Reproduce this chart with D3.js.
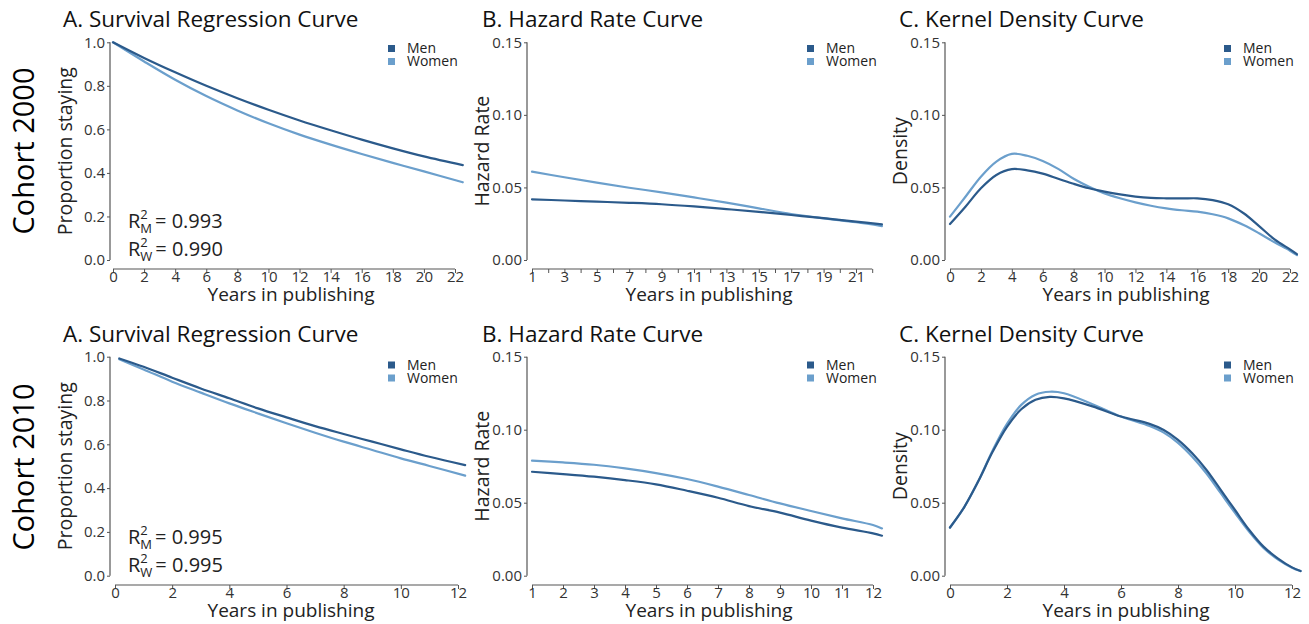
<!DOCTYPE html>
<html>
<head>
<meta charset="utf-8">
<script src="https://cdn.jsdelivr.net/npm/d3@7"></script>
<style>
  html, body { margin: 0; padding: 0; background: #fff; }
  svg { display: block; }
</style>
</head>
<body>
<svg id="chart" width="1309" height="624"></svg>
<script>
// ---------------- DATA ----------------
const seriesNames = ["Men", "Women"];
const seriesColors = ["#2b5a8b", "#6b9fcc"];
const cohortLabels = ["Cohort 2000", "Cohort 2010"];
const panelTitles = ["A. Survival Regression Curve", "B. Hazard Rate Curve", "C. Kernel Density Curve"];
const yAxisTitles = ["Proportion staying", "Hazard Rate", "Density"];
const xAxisTitle = "Years in publishing";

// Cohort 2000
const survYears2000 = [0, 2, 4, 6, 8, 10, 12, 14, 16, 18, 20, 22.5];
const survMen2000   = [1.0, 0.928, 0.862, 0.800, 0.743, 0.690, 0.641, 0.596, 0.553, 0.513, 0.476, 0.436];
const survWomen2000 = [1.0, 0.912, 0.828, 0.753, 0.687, 0.628, 0.576, 0.530, 0.487, 0.446, 0.407, 0.357];

const hazYears2000 = [1, 3, 5, 7, 9, 11, 13, 15, 17, 19, 21, 22.6];
const hazMen2000   = [0.0418, 0.0410, 0.0402, 0.0394, 0.0384, 0.0369, 0.0351, 0.0332, 0.0310, 0.0288, 0.0264, 0.0246];
const hazWomen2000 = [0.0609, 0.0570, 0.0533, 0.0498, 0.0466, 0.0431, 0.0395, 0.0356, 0.0317, 0.0287, 0.0260, 0.0234];

const denYears2000 = [0, 1, 2, 3, 4, 5, 6, 7, 8, 9, 10, 11, 12, 13, 14, 15, 16, 17, 18, 19, 20, 21, 22, 22.45];
const denMen2000   = [0.0248, 0.0367, 0.0494, 0.0586, 0.0626, 0.0618, 0.0595, 0.0560, 0.0525, 0.0494, 0.0471, 0.0452, 0.0437, 0.0428, 0.0425, 0.0424, 0.0425, 0.0413, 0.0384, 0.0322, 0.0234, 0.0142, 0.0073, 0.0041];
const denWomen2000 = [0.0299, 0.0436, 0.0574, 0.0678, 0.0731, 0.0718, 0.0682, 0.0628, 0.0560, 0.0505, 0.0459, 0.0425, 0.0397, 0.0374, 0.0356, 0.0343, 0.0333, 0.0315, 0.0287, 0.0241, 0.0184, 0.0122, 0.0064, 0.0034];

// Cohort 2010
const survYears2010 = [0.15, 1, 2, 3, 4, 5, 6, 7, 8, 9, 10, 11, 12.25];
const survMen2010   = [0.992, 0.954, 0.904, 0.855, 0.810, 0.764, 0.723, 0.683, 0.647, 0.612, 0.577, 0.543, 0.505];
const survWomen2010 = [0.988, 0.942, 0.886, 0.836, 0.787, 0.741, 0.696, 0.653, 0.612, 0.574, 0.536, 0.501, 0.457];

const hazYears2010 = [1, 2, 3, 4, 5, 6, 7, 8, 9, 10, 11, 12, 12.29];
const hazMen2010   = [0.0712, 0.0696, 0.0678, 0.0655, 0.0626, 0.0582, 0.0534, 0.0477, 0.0432, 0.0377, 0.0329, 0.0290, 0.0274];
const hazWomen2010 = [0.0788, 0.0776, 0.0760, 0.0735, 0.0703, 0.0662, 0.0610, 0.0553, 0.0495, 0.0443, 0.0393, 0.0347, 0.0324];

const denYears2010 = [0, 0.5, 1, 1.5, 2, 2.5, 3, 3.5, 4, 5, 6, 7, 7.5, 8, 8.5, 9, 9.5, 10, 10.5, 11, 11.5, 12, 12.3];
const denMen2010   = [0.033, 0.047, 0.065, 0.085, 0.102, 0.114, 0.1205, 0.1225, 0.1215, 0.1160, 0.1090, 0.1040, 0.0998, 0.0930, 0.0838, 0.0724, 0.0587, 0.0450, 0.0313, 0.0199, 0.0119, 0.0057, 0.0032];
const denWomen2010 = [0.033, 0.047, 0.065, 0.086, 0.104, 0.117, 0.1240, 0.1260, 0.1250, 0.1175, 0.1090, 0.1025, 0.0980, 0.0910, 0.0815, 0.0700, 0.0565, 0.0430, 0.0300, 0.0190, 0.0112, 0.0055, 0.0032];

// Tick definitions
const survYTicks = [0, 0.2, 0.4, 0.6, 0.8, 1.0];
const rateYTicks = [0, 0.05, 0.10, 0.15];
const xTicks2000Even = [0, 2, 4, 6, 8, 10, 12, 14, 16, 18, 20, 22];
const xTicks2000All = [1, 2, 3, 4, 5, 6, 7, 8, 9, 10, 11, 12, 13, 14, 15, 16, 17, 18, 19, 20, 21, 22];
const xTicks2000Odd = [1, 3, 5, 7, 9, 11, 13, 15, 17, 19, 21];
const xTicks2010Even = [0, 2, 4, 6, 8, 10, 12];
const xTicks2010All = [1, 2, 3, 4, 5, 6, 7, 8, 9, 10, 11, 12];

const r2Labels = [["M", "0.993", "W", "0.990"], ["M", "0.995", "W", "0.995"]];

// ---------------- LAYOUT ----------------
const svg = d3.select("#chart");
const TITLE_FONT = "'Open Sans', sans-serif";
const AXIS_FONT = "'Open Sans', sans-serif";

const rows = [
  { yTop: 42.3, yBot: 260, xAxisY: 269, titleY: 27, legendY: [48.5, 61.5], cohortY: 151 },
  { yTop: 356.7, yBot: 575.7, xAxisY: 585, titleY: 342, legendY: [365, 378], cohortY: 467 }
];
const cols = [
  { axisX: 110, titleX: 63, xTitleX: 291, legendX: 388 },
  { axisX: 527, titleX: 482, xTitleX: 709, legendX: 807 },
  { axisX: 945, titleX: 899, xTitleX: 1126, legendX: 1224 }
];

const panels = [
  { r: 0, c: 0, xDom: [0, 22], xRange: [113, 455], yDom: [0, 1], yTicks: survYTicks, yFmt: d3.format(".1f"),
    xTicks: xTicks2000Even, xLabels: xTicks2000Even, xs: survYears2000, ys: [survMen2000, survWomen2000], r2: r2Labels[0] },
  { r: 0, c: 1, xDom: [1, 21], xRange: [532, 856], yDom: [0, 0.15], yTicks: rateYTicks, yFmt: d3.format(".2f"),
    xTicks: xTicks2000All, xLabels: xTicks2000Odd, xs: hazYears2000, ys: [hazMen2000, hazWomen2000] },
  { r: 0, c: 2, xDom: [0, 22], xRange: [950, 1290], yDom: [0, 0.15], yTicks: rateYTicks, yFmt: d3.format(".2f"),
    xTicks: xTicks2000Even, xLabels: xTicks2000Even, xs: denYears2000, ys: [denMen2000, denWomen2000] },
  { r: 1, c: 0, xDom: [0, 12], xRange: [115, 458], yDom: [0, 1], yTicks: survYTicks, yFmt: d3.format(".1f"),
    xTicks: xTicks2010Even, xLabels: xTicks2010Even, xs: survYears2010, ys: [survMen2010, survWomen2010], r2: r2Labels[1] },
  { r: 1, c: 1, xDom: [1, 12], xRange: [532, 873], yDom: [0, 0.15], yTicks: rateYTicks, yFmt: d3.format(".2f"),
    xTicks: xTicks2010All, xLabels: xTicks2010All, xs: hazYears2010, ys: [hazMen2010, hazWomen2010] },
  { r: 1, c: 2, xDom: [0, 12], xRange: [950, 1292], yDom: [0, 0.15], yTicks: rateYTicks, yFmt: d3.format(".2f"),
    xTicks: xTicks2010Even, xLabels: xTicks2010Even, xs: denYears2010, ys: [denMen2010, denWomen2010] }
];

// Cohort labels
rows.forEach((row, i) => {
  svg.append("text")
    .attr("transform", `translate(34,${row.cohortY}) rotate(-90)`)
    .attr("text-anchor", "middle")
    .attr("font-family", TITLE_FONT)
    .attr("font-size", 29)
    .attr("fill", "#000")
    .text(cohortLabels[i]);
});

panels.forEach(p => {
  const row = rows[p.r], col = cols[p.c];
  const x = d3.scaleLinear().domain(p.xDom).range(p.xRange);
  const y = d3.scaleLinear().domain(p.yDom).range([row.yBot, row.yTop]);
  const g = svg.append("g");

  // Title
  g.append("text")
    .attr("x", col.titleX).attr("y", row.titleY)
    .attr("font-family", TITLE_FONT).attr("font-size", 22.5)
    .attr("fill", "#111")
    .text(panelTitles[p.c]);

  // Y axis (capped line)
  const yAxis = d3.axisLeft(y).tickValues(p.yTicks).tickFormat(p.yFmt).tickSize(3).tickPadding(2);
  const ya = g.append("g").attr("transform", `translate(${col.axisX},0)`).call(yAxis);
  ya.select(".domain").remove();
  ya.append("line")
    .attr("x1", 0).attr("x2", 0)
    .attr("y1", y(p.yTicks[0])).attr("y2", y(p.yTicks[p.yTicks.length - 1]))
    .attr("stroke", "#555").attr("stroke-width", 1.2);
  ya.selectAll(".tick line").attr("stroke", "#555");
  ya.selectAll(".tick text")
    .attr("font-family", AXIS_FONT).attr("font-size", 15).attr("fill", "#333");

  // X axis (capped line)
  const labelSet = new Set(p.xLabels);
  const xAxis = d3.axisBottom(x).tickValues(p.xTicks)
    .tickFormat(d => String(d))
    .tickSize(4).tickPadding(0);
  const xa = g.append("g").attr("transform", `translate(0,${row.xAxisY})`).call(xAxis);
  xa.select(".domain").remove();
  xa.append("line")
    .attr("x1", x(p.xTicks[0])).attr("x2", x(p.xTicks[p.xTicks.length - 1]))
    .attr("y1", 0).attr("y2", 0)
    .attr("stroke", "#555").attr("stroke-width", 1.2);
  xa.selectAll(".tick line").attr("stroke", "#555");
  xa.selectAll(".tick text")
    .filter(d => !labelSet.has(d)).remove();
  xa.selectAll(".tick text")
    .attr("font-family", AXIS_FONT).attr("font-size", 15).attr("fill", "#333")
    .attr("y", 2).attr("dy", "0.71em");

  // Axis titles
  g.append("text")
    .attr("transform", `translate(${col.axisX - 38},${(row.yTop + row.yBot) / 2}) rotate(-90)`)
    .attr("text-anchor", "middle")
    .attr("font-family", AXIS_FONT).attr("font-size", 19.5).attr("fill", "#222")
    .text(yAxisTitles[p.c]);
  g.append("text")
    .attr("x", col.xTitleX).attr("y", row.xAxisY + 32)
    .attr("text-anchor", "middle")
    .attr("font-family", AXIS_FONT).attr("font-size", 19).attr("fill", "#222")
    .text(xAxisTitle);

  // Lines
  const line = d3.line()
    .x(d => x(d[0])).y(d => y(d[1]))
    .curve(d3.curveCatmullRom.alpha(0.5));
  [1, 0].forEach(si => {
    const pts = p.xs.map((xv, i) => [xv, p.ys[si][i]]);
    g.append("path")
      .datum(pts)
      .attr("d", line)
      .attr("fill", "none")
      .attr("stroke", seriesColors[si])
      .attr("stroke-width", 2.2)
      .attr("stroke-linecap", "round");
  });

  // Legend (keys + one text block with a line per series)
  seriesNames.forEach((name, si) => {
    g.append("rect")
      .attr("x", col.legendX).attr("y", row.legendY[si] - 3.5)
      .attr("width", 7).attr("height", 7)
      .attr("fill", seriesColors[si]);
  });
  const lt = g.append("text")
    .attr("font-family", AXIS_FONT).attr("font-size", 14).attr("fill", "#222");
  seriesNames.forEach((name, si) => {
    lt.append("tspan")
      .attr("x", col.legendX + 19).attr("y", row.legendY[si])
      .attr("dy", "0.35em")
      .text(name);
  });

  // R^2 annotations (one text per line, with stacked super/subscripts)
  if (p.r2) {
    const baseX = 128;
    const lines = [[p.r2[0], p.r2[1], row.yBot - 32], [p.r2[2], p.r2[3], row.yBot - 4]];
    lines.forEach(([sub, val, by]) => {
      const t = g.append("text").attr("x", baseX).attr("y", by)
        .attr("font-family", AXIS_FONT).attr("font-size", 20).attr("fill", "#222");
      t.append("tspan").text("R");
      const sup = t.append("tspan").attr("font-size", 13).attr("dy", -9).text("2");
      const supW = sup.node().getComputedTextLength();
      const sb = t.append("tspan").attr("font-size", 13).attr("dx", -supW).attr("dy", 14).text(sub);
      const sbW = sb.node().getComputedTextLength();
      t.append("tspan").attr("dx", Math.max(0, supW - sbW) + 3).attr("dy", -5).text("= " + val);
    });
  }
});
</script>
</body>
</html>
